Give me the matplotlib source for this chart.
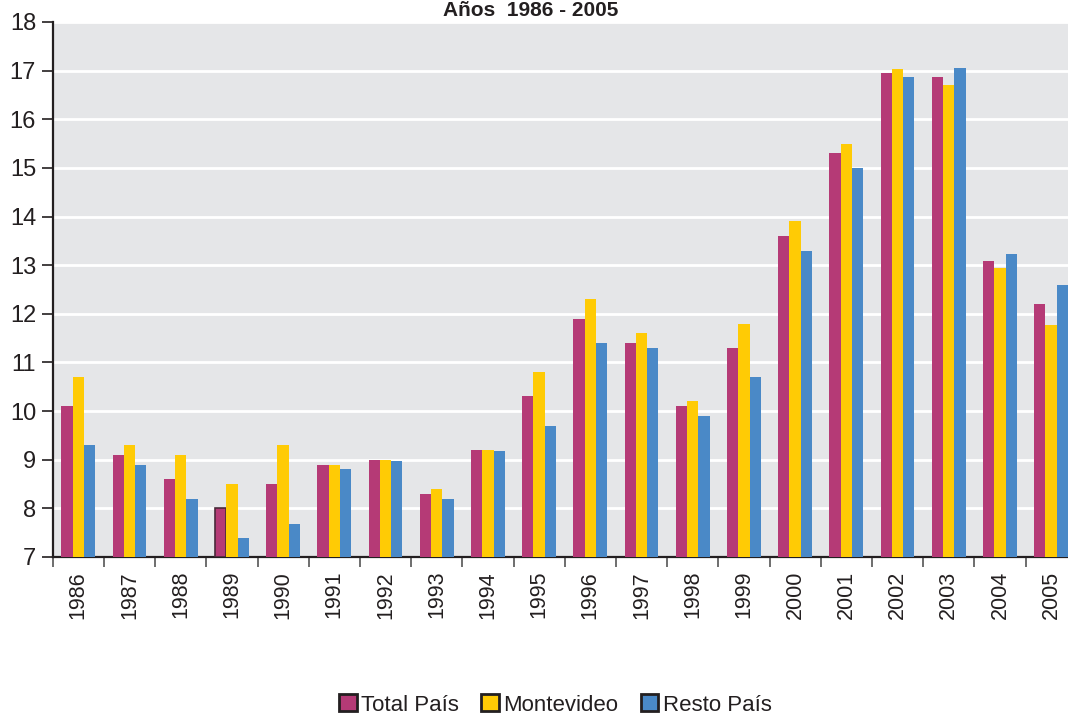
import matplotlib.pyplot as plt
import numpy as np

plt.rcParams['font.family'] = ['Liberation Sans', 'DejaVu Sans']

# datos por año
anios = ['1986', '1987', '1988', '1989', '1990', '1991', '1992', '1993', '1994', '1995',
         '1996', '1997', '1998', '1999', '2000', '2001', '2002', '2003', '2004', '2005']
total_pais = [10.1, 9.1, 8.6, 8.0, 8.5, 8.9, 9.0, 8.3, 9.2, 10.3,
              11.9, 11.4, 10.1, 11.3, 13.6, 15.3, 16.95, 16.87, 13.08, 12.2]
montevideo = [10.7, 9.3, 9.1, 8.5, 9.3, 8.9, 9.0, 8.4, 9.2, 10.8,
              12.3, 11.6, 10.2, 11.8, 13.9, 15.5, 17.03, 16.7, 12.94, 11.78]
resto_pais = [9.3, 8.9, 8.2, 7.4, 7.68, 8.8, 8.98, 8.2, 9.18, 9.7,
              11.4, 11.3, 9.9, 10.7, 13.3, 15.0, 16.86, 17.05, 13.23, 12.59]

series = [('Total País', total_pais, '#B53A76'),
          ('Montevideo', montevideo, '#FFCB05'),
          ('Resto País', resto_pais, '#4A89C7')]

fig = plt.figure(figsize=(10.68, 7.17), dpi=100)
ax = fig.add_axes([52.7 / 1068, 1 - 557 / 717, 1024 / 1068, 535 / 717])
ax.set_facecolor('#E5E6E8')

x = np.arange(len(anios))
ancho = 0.22
for i, (nombre, valores, color) in enumerate(series):
    barras = ax.bar(x + (i - 1) * ancho, np.array(valores) - 7, ancho, bottom=7,
                    color=color, label=nombre, zorder=3)
    if i == 0:
        # la barra de 1989 tiene borde oscuro en el original
        barras[3].set_edgecolor('#4a2a3a')
        barras[3].set_linewidth(1.2)

ax.set_ylim(7, 18)
ax.set_xlim(-0.5, len(anios) - 0.5)
ax.set_yticks(range(7, 19))
ax.tick_params(axis='y', labelsize=17, length=8, width=1.2, color='#231f20',
               labelcolor='#231f20', pad=4)
ax.yaxis.grid(True, color='white', linewidth=2, zorder=1)
ax.set_axisbelow(True)

# ticks entre grupos, etiquetas en el centro
ax.set_xticks(np.arange(len(anios) + 1) - 0.5)
ax.set_xticklabels([])
ax.set_xticks(x, minor=True)
ax.set_xticklabels(anios, minor=True, rotation=90, fontsize=15.5, color='#231f20')
ax.tick_params(axis='x', which='major', length=7, width=1.2, color='#555555')
ax.tick_params(axis='x', which='minor', length=0, pad=10)

for lado in ['top', 'right']:
    ax.spines[lado].set_visible(False)
for lado in ['left', 'bottom']:
    ax.spines[lado].set_color('#231f20')
    ax.spines[lado].set_linewidth(1.6)

fig.text(0.497, 1 - 1 / 717, 'Años  1986 - 2005', ha='center', va='top',
         fontsize=15, fontweight='bold', color='#231f20')

handles = [plt.Rectangle((0, 0), 1, 1, facecolor=c, edgecolor='#231f20', linewidth=2)
           for _, _, c in series]
fig.legend(handles, [s[0] for s in series], loc='center', bbox_to_anchor=(0.52, 1 - 705 / 717),
           ncol=3, frameon=False, fontsize=16, handlelength=0.8, handleheight=0.8,
           handletextpad=0.2, columnspacing=1.0, labelcolor='#231f20')

fig.savefig('out.png', dpi=100)
